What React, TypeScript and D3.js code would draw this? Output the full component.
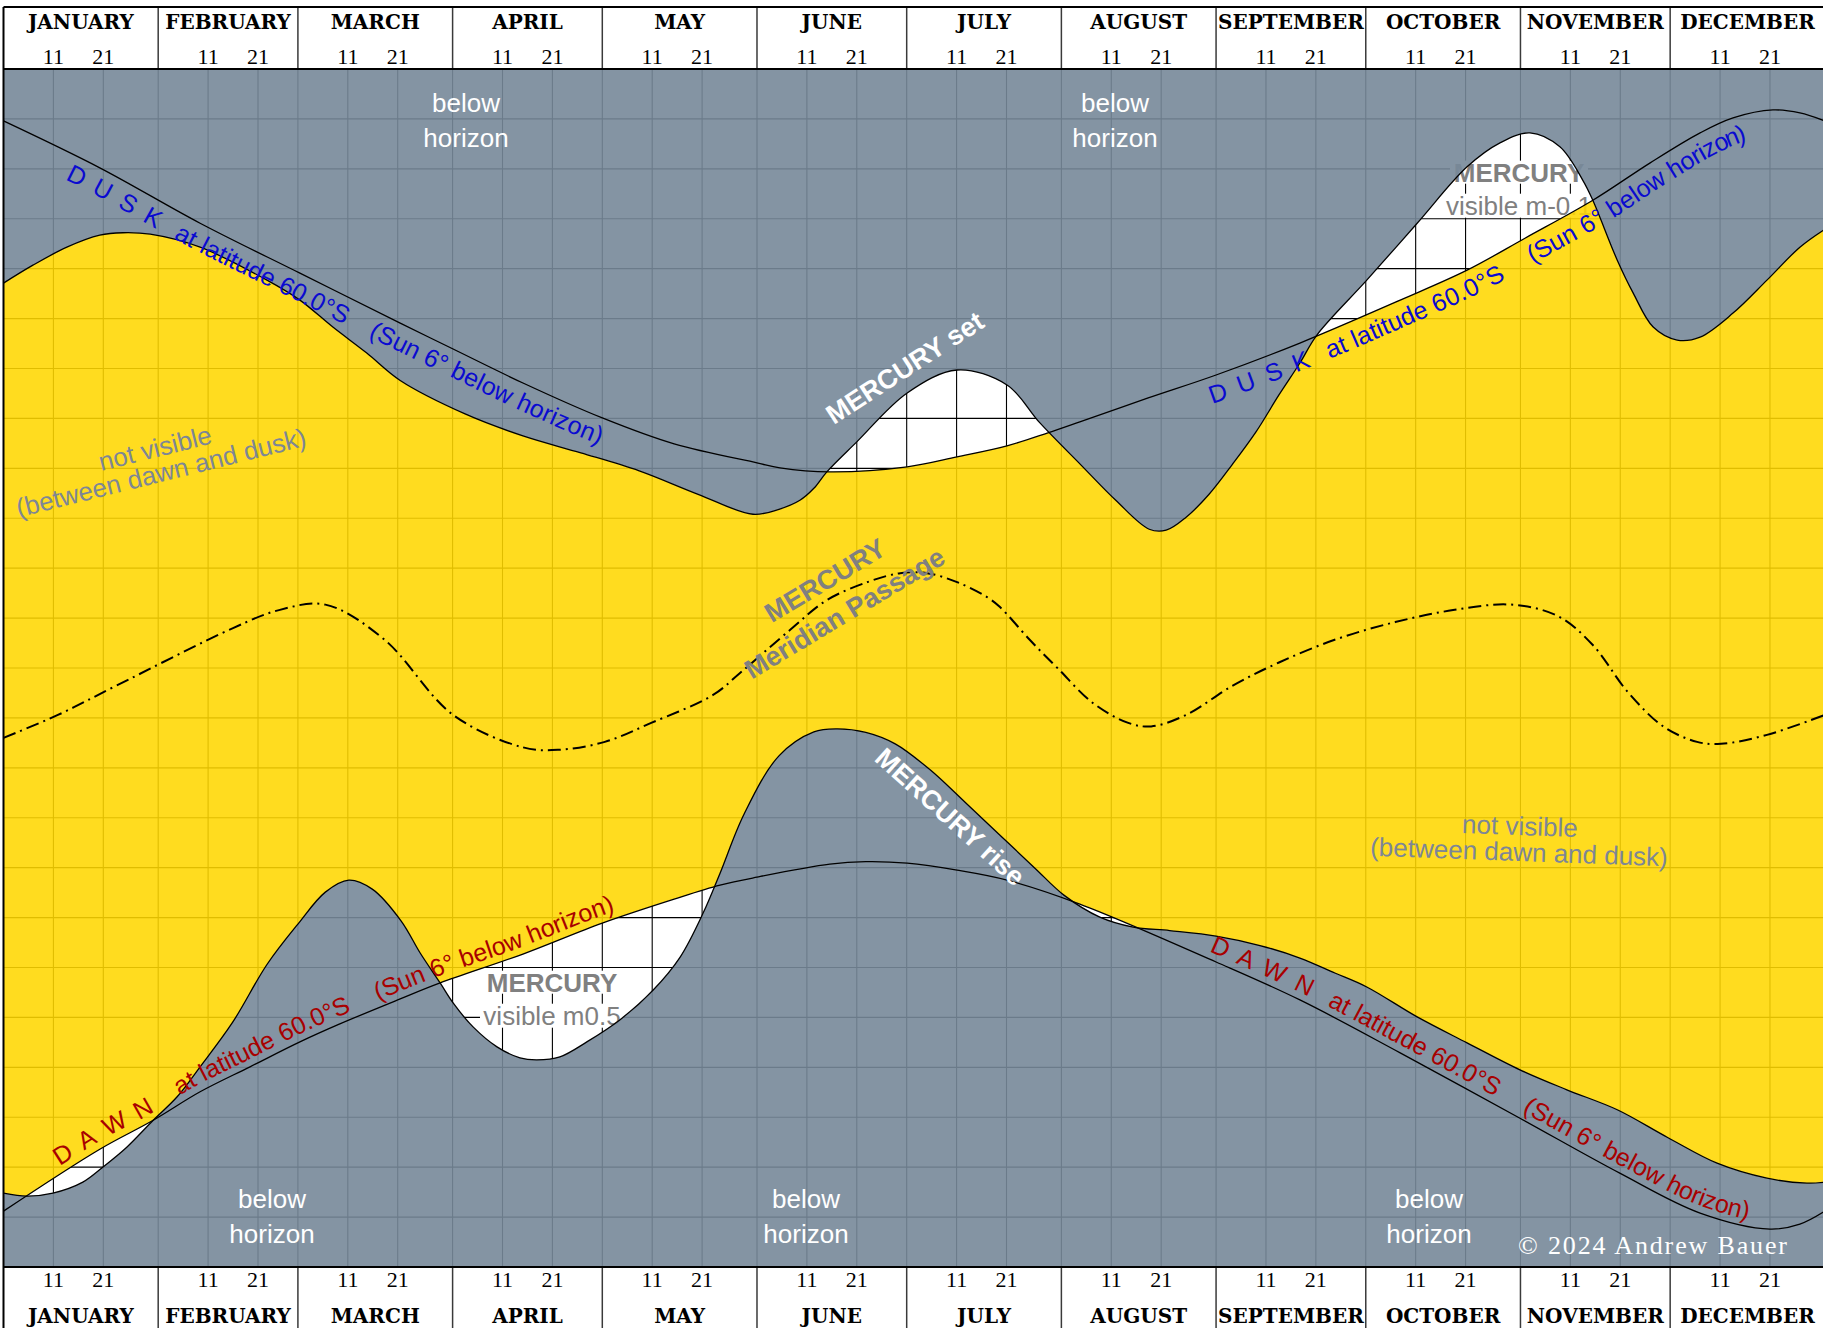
import React from 'react';
import * as d3 from 'd3';

type P = [number, number];

// ---------- axis / category data ----------
const MONTHS = ['JANUARY', 'FEBRUARY', 'MARCH', 'APRIL', 'MAY', 'JUNE', 'JULY', 'AUGUST', 'SEPTEMBER', 'OCTOBER', 'NOVEMBER', 'DECEMBER'];
const MONTH_START_DAYS = [0, 31, 59, 90, 120, 151, 181, 212, 243, 273, 304, 334, 365];
const DAY_TICK_LABELS = ['11', '21'];
const HOUR_LINES = d3.range(1, 24);

// ---------- series: [day of year, hour of day] ----------
const DUSK_HOURS: P[] = [
  [0, 22.96], [19.3, 22.02], [39.4, 20.91], [59.4, 19.91], [79.5, 18.91], [90.1, 18.39], [104.1, 17.71],
  [120.0, 17.01], [134.4, 16.49], [151.0, 16.11], [155.6, 16.01], [165.6, 15.93], [181.1, 16.03],
  [191.1, 16.23], [201.1, 16.45], [209.3, 16.71], [215.7, 16.93], [229.4, 17.41], [243.0, 17.87],
  [259.8, 18.51], [279.9, 19.37], [293.3, 19.97], [304.9, 20.61], [318.5, 21.37], [330.0, 22.12],
  [340.0, 22.72], [346.6, 23.02], [354.6, 23.18], [360.0, 23.12], [365, 22.96],
];

const DAWN_HOURS: P[] = [
  [0, 1.12], [19.3, 2.36], [30.0, 2.94], [39.4, 3.51], [49.4, 4.01], [59.4, 4.51], [67.4, 4.87],
  [79.5, 5.37], [87.5, 5.69], [104.1, 6.27], [120.0, 6.89], [134.4, 7.37], [143.6, 7.65], [151.0, 7.81],
  [165.6, 8.07], [172.8, 8.12], [181.1, 8.09], [191.1, 7.95], [201.1, 7.75], [215.7, 7.27], [243.0, 6.11],
  [259.8, 5.35], [279.9, 4.29], [303.9, 2.98], [323.9, 1.88], [340.0, 1.08], [354.0, 0.76], [360.0, 0.86],
  [365, 1.12],
];

const MERCURY_SET: P[] = [
  [0, 19.71], [5.9, 20.07], [12.7, 20.43], [19.3, 20.67], [23.9, 20.72], [29.4, 20.69], [39.4, 20.43],
  [52.8, 19.77], [59.4, 19.37], [66.0, 18.83], [72.8, 18.31], [79.5, 17.76], [92.5, 17.09], [104.1, 16.65],
  [115.7, 16.31], [127.4, 15.95], [139.2, 15.48], [150.2, 15.08], [155.4, 15.18], [159.6, 15.36],
  [162.4, 15.60], [165.0, 15.93], [171.0, 16.53], [181.1, 17.51], [191.1, 17.97], [201.1, 17.67],
  [207.7, 16.91], [215.9, 16.07], [222.9, 15.36], [229.6, 14.78], [233.0, 14.76],
  [237.0, 15.02], [241.6, 15.48], [246.2, 16.07], [251.0, 16.73], [255.6, 17.47], [259.8, 18.11],
  [263.2, 18.67], [273.2, 19.77], [283.3, 20.91], [293.3, 22.04], [299.9, 22.52], [305.9, 22.72],
  [311.9, 22.44], [316.5, 21.77], [318.5, 21.37], [323.4, 20.17], [326.6, 19.51], [330.6, 18.83],
  [335.4, 18.57], [340.0, 18.63], [346.6, 19.11], [353.4, 19.77], [360.0, 20.43], [365, 20.79],
];

const MERCURY_RISE: P[] = [
  [0, 1.48], [4.7, 1.42], [9.9, 1.48], [15.9, 1.70], [19.9, 2.00], [24.7, 2.40], [30.0, 2.94], [34.8, 3.41],
  [39.4, 4.01], [45.9, 4.90], [52.8, 6.06], [59.0, 6.87], [64.5, 7.51], [69.2, 7.75], [73.9, 7.57],
  [79.7, 6.93], [83.5, 6.29], [87.5, 5.69], [90.1, 5.29], [94.1, 4.81], [98.9, 4.41], [103.5, 4.19],
  [106.9, 4.15], [111.5, 4.21], [116.9, 4.51], [123.5, 4.95], [130.2, 5.55], [135.6, 6.21], [140.2, 7.09],
  [143.6, 7.89], [148.4, 9.07], [155.4, 10.24], [162.4, 10.72], [167.0, 10.78], [172.8, 10.71],
  [178.7, 10.48], [185.7, 9.96], [192.7, 9.31], [199.7, 8.65], [206.7, 7.99], [212.5, 7.45], [219.7, 7.01],
  [226.4, 6.81], [233.7, 6.74], [243.0, 6.63], [251.8, 6.44], [259.8, 6.19], [266.8, 5.89], [273.2, 5.61],
  [283.3, 5.01], [293.3, 4.49], [303.9, 3.95], [313.3, 3.55], [323.4, 3.15], [333.4, 2.60], [343.4, 2.08],
  [353.4, 1.78], [361.4, 1.68], [365, 1.70],
];

const MERCURY_MERIDIAN: P[] = [
  [0, 10.60], [10.9, 11.06], [22.5, 11.64], [46.0, 12.80], [55.2, 13.16], [64.5, 13.27], [76.2, 12.58],
  [90.1, 11.06], [104.1, 10.41], [111.1, 10.36], [120.5, 10.52], [129.8, 10.90], [142.2, 11.46],
  [147.6, 11.90], [157.6, 12.76], [165.0, 13.36], [173.1, 13.72], [179.7, 13.90], [185.1, 13.90],
  [191.1, 13.72], [197.1, 13.42], [199.7, 13.22], [205.7, 12.56], [211.3, 11.99], [218.3, 11.30],
  [225.4, 10.90], [230.0, 10.83], [237.0, 11.06], [246.2, 11.64], [255.6, 12.11], [267.2, 12.58],
  [278.9, 12.92], [290.5, 13.16], [302.1, 13.27], [311.5, 13.04], [318.5, 12.46], [325.5, 11.52],
  [332.6, 10.83], [339.4, 10.52], [344.2, 10.48], [353.4, 10.66], [365, 11.06],
];

const DUSK_LABEL = ['D U S K', 'at latitude 60.0°S', '(Sun 6° below horizon)'];
const DAWN_LABEL = ['D A W N', 'at latitude 60.0°S', '(Sun 6° below horizon)'];

// ---------- layout ----------
const W = 1823;
const H = 1328;
const PLOT_TOP = 69;
const PLOT_BOTTOM = 1267;
const X_LEFT = 3.5;
const PX_PER_DAY = 4.99;
const SANS = "'Liberation Sans', Arial, Helvetica, sans-serif";
const SERIF = "'Liberation Serif', 'Times New Roman', serif";
const HEAD_SERIF = "'DejaVu Serif', 'Liberation Serif', serif";
const BLUE = '#0a0ad0';
const RED = '#a80000';
const LABEL_GRAY = '#808080';
const SOFT_GRAY = '#7d8696';

function makeMeasure(pts: P[]) {
  const cum = [0];
  for (let i = 1; i < pts.length; i++) {
    cum.push(cum[i - 1] + Math.hypot(pts[i][0] - pts[i - 1][0], pts[i][1] - pts[i - 1][1]));
  }
  const seg = (xt: number) => {
    let i = 0;
    while (i < pts.length - 2 && pts[i + 1][0] < xt) i++;
    return i;
  };
  return (xGlyph: number, dy: number) => {
    let i = seg(xGlyph);
    const ang = Math.atan2(pts[i + 1][1] - pts[i][1], pts[i + 1][0] - pts[i][0]);
    const xp = xGlyph + dy * Math.sin(ang);
    i = seg(xp);
    const t = (xp - pts[i][0]) / (pts[i + 1][0] - pts[i][0]);
    return cum[i] + t * (cum[i + 1] - cum[i]);
  };
}

export default function App() {
  const x = d3.scaleLinear().domain([0, 365]).range([X_LEFT, X_LEFT + 365 * PX_PER_DAY]);
  const y = d3.scaleLinear().domain([0, 24]).range([PLOT_BOTTOM, PLOT_TOP]);

  const curve = d3.curveCatmullRom.alpha(0.5);
  const line = d3.line<P>().x((d) => x(d[0])).y((d) => y(d[1])).curve(curve);
  const areaAbove = d3.area<P>().x((d) => x(d[0])).y0(PLOT_TOP).y1((d) => y(d[1])).curve(curve);
  const areaBelow = d3.area<P>().x((d) => x(d[0])).y0(PLOT_BOTTOM).y1((d) => y(d[1])).curve(curve);

  const xL = x(0);
  const xR = x(365);
  const rectD = `M${xL},${PLOT_TOP}H${xR}V${PLOT_BOTTOM}H${xL}Z`;
  const mercuryBandD = rectD + areaAbove(MERCURY_SET) + areaBelow(MERCURY_RISE);
  const twilightBandD = rectD + areaAbove(DUSK_HOURS) + areaBelow(DAWN_HOURS);

  // vertical grid days
  const gridDays: number[] = [];
  MONTH_START_DAYS.slice(0, 12).forEach((s) => {
    if (s > 0) gridDays.push(s);
    gridDays.push(s + 10, s + 20);
  });

  const duskPx: P[] = DUSK_HOURS.map((d) => [x(d[0]), y(d[1])]);
  const dawnPx: P[] = DAWN_HOURS.map((d) => [x(d[0]), y(d[1])]);
  const duskMeasure = makeMeasure(duskPx);
  const dawnMeasure = makeMeasure(dawnPx);

  const DUSK_DY = 26;
  const DAWN_DY = -7;
  const pathLabels = [
    { href: '#duskPath', color: BLUE, dy: DUSK_DY, measure: duskMeasure, texts: DUSK_LABEL, xs: [65, 173, 368] },
    { href: '#duskPath', color: BLUE, dy: DUSK_DY, measure: duskMeasure, texts: DUSK_LABEL, xs: [1212, 1330, 1533] },
    { href: '#dawnPath', color: RED, dy: DAWN_DY, measure: dawnMeasure, texts: DAWN_LABEL, xs: [60, 180, 378] },
    { href: '#dawnPath', color: RED, dy: DAWN_DY, measure: dawnMeasure, texts: DAWN_LABEL, xs: [1209, 1327, 1522] },
  ];

  const belowHorizon = [
    { cx: 466, y: 112 }, { cx: 1115, y: 112 },
    { cx: 272, y: 1208 }, { cx: 806, y: 1208 }, { cx: 1429, y: 1208 },
  ];

  const visibleBoxes = [
    { cx: 552, base: 991.7, line2: 'visible m0.5', w1: 138, w2: 144 },
    { cx: 1519, base: 181.7, line2: 'visible m-0.1', w1: 138, w2: 152 },
  ];

  const monthCenters = MONTHS.map((m, i) => (x(MONTH_START_DAYS[i]) + x(MONTH_START_DAYS[i + 1])) / 2);

  const header = (yTop: number, yBottom: number, monthBase: number, dayBase: number, key: string) => (
    <g key={key}>
      <rect x={0} y={yTop} width={W} height={yBottom - yTop} fill="#fff" />
      {MONTH_START_DAYS.slice(1, 12).map((s) => (
        <line key={s} x1={x(s)} x2={x(s)} y1={yTop} y2={yBottom} stroke="#3a3a3a" strokeWidth={1.5} />
      ))}
      {MONTHS.map((m, i) => (
        <text key={m} x={monthCenters[i]} y={monthBase} textAnchor="middle" fontFamily={HEAD_SERIF}
          fontWeight="bold" fontSize={20} fill="#000">{m}</text>
      ))}
      {MONTH_START_DAYS.slice(0, 12).map((s) =>
        DAY_TICK_LABELS.map((lab) => (
          <text key={`${s}-${lab}`} x={x(s + Number(lab) - 1)} y={dayBase} textAnchor="middle"
            fontFamily={SERIF} fontSize={22} fill="#000">{lab}</text>
        ))
      )}
    </g>
  );

  return (
    <div style={{ position: 'absolute', left: 0, top: 0, width: W, height: H, overflow: 'hidden', background: '#fff' }}>
      <svg width={W} height={H} viewBox={`0 0 ${W} ${H}`} style={{ display: 'block' }}>
        <defs>
          <clipPath id="mercuryBand">
            <path d={mercuryBandD} clipRule="evenodd" />
          </clipPath>
          <clipPath id="twilightBand">
            <path d={twilightBandD} clipRule="evenodd" />
          </clipPath>
          <clipPath id="plotClip">
            <rect x={xL} y={PLOT_TOP} width={xR - xL} height={PLOT_BOTTOM - PLOT_TOP} />
          </clipPath>
          <path id="duskPath" d={line(DUSK_HOURS) || ''} />
          <path id="dawnPath" d={line(DAWN_HOURS) || ''} />
        </defs>

        <rect x={0} y={0} width={W} height={H} fill="#fff" />

        <g clipPath="url(#plotClip)">
          {/* black grid */}
          {gridDays.map((d) => (
            <line key={`v${d}`} x1={x(d)} x2={x(d)} y1={PLOT_TOP} y2={PLOT_BOTTOM} stroke="#000" strokeWidth={1.1} />
          ))}
          {HOUR_LINES.map((h) => (
            <line key={`h${h}`} x1={xL} x2={xR} y1={y(h)} y2={y(h)} stroke="#000" strokeWidth={1.1} />
          ))}

          {/* visibility labels with white boxes (beneath the overlays) */}
          {visibleBoxes.map((b) => (
            <g key={b.line2}>
              <rect x={b.cx - b.w1 / 2} y={b.base - 21} width={b.w1} height={23} fill="#fff" />
              <rect x={b.cx - b.w2 / 2} y={b.base + 12} width={b.w2} height={24} fill="#fff" />
              <text x={b.cx} y={b.base} textAnchor="middle" fontFamily={SANS} fontWeight="bold" fontSize={26}
                fill={LABEL_GRAY}>MERCURY</text>
              <text x={b.cx} y={b.base + 33.3} textAnchor="middle" fontFamily={SANS} fontSize={26}
                fill={LABEL_GRAY}>{b.line2}</text>
            </g>
          ))}

          {/* below horizon (gray) */}
          <path d={areaAbove(MERCURY_SET) || ''} fill="#778899" fillOpacity={0.9} />
          <path d={areaBelow(MERCURY_RISE) || ''} fill="#778899" fillOpacity={0.9} />

          {/* daylight, Mercury up (yellow) */}
          <g clipPath="url(#twilightBand)">
            <rect x={xL} y={PLOT_TOP} width={xR - xL} height={PLOT_BOTTOM - PLOT_TOP} fill="#ffd700"
              fillOpacity={0.88} clipPath="url(#mercuryBand)" />
          </g>

          {/* curves */}
          <path d={line(MERCURY_SET) || ''} fill="none" stroke="#000" strokeWidth={1.3} />
          <path d={line(MERCURY_RISE) || ''} fill="none" stroke="#000" strokeWidth={1.3} />
          <path d={line(DUSK_HOURS) || ''} fill="none" stroke="#000" strokeWidth={1.3} />
          <path d={line(DAWN_HOURS) || ''} fill="none" stroke="#000" strokeWidth={1.3} />
          <path d={line(MERCURY_MERIDIAN) || ''} fill="none" stroke="#000" strokeWidth={2}
            strokeDasharray="13 5 2 5" />

          {/* below horizon labels */}
          {belowHorizon.map((b, i) => (
            <g key={`bh${i}`} fontFamily={SANS} fontSize={26} fill="#fff" textAnchor="middle">
              <text x={b.cx} y={b.y}>below</text>
              <text x={b.cx} y={b.y + 35}>horizon</text>
            </g>
          ))}

          {/* not visible labels */}
          <g transform="translate(158,460) rotate(-14)" fontFamily={SANS} fontSize={26} fill={SOFT_GRAY}
            textAnchor="middle" dominantBaseline="central">
            <text x={0} y={-12}>not visible</text>
            <text x={0} y={13}>(between dawn and dusk)</text>
          </g>
          <g transform="translate(1519.5,839) rotate(2)" fontFamily={SANS} fontSize={26} fill={SOFT_GRAY}
            textAnchor="middle" dominantBaseline="central">
            <text x={0} y={-13}>not visible</text>
            <text x={0} y={13}>(between dawn and dusk)</text>
          </g>

          {/* Mercury set / rise */}
          <text transform="translate(905,368) rotate(-33)" textAnchor="middle" dominantBaseline="central"
            fontFamily={SANS} fontWeight="bold" fontSize={27} fill="#fff">MERCURY set</text>
          <text transform="translate(950,817) rotate(42)" textAnchor="middle" dominantBaseline="central"
            fontFamily={SANS} fontWeight="bold" fontSize={27} fill="#fff">MERCURY rise</text>

          {/* meridian passage */}
          <g transform="translate(835,597) rotate(-31)" fontFamily={SANS} fontWeight="bold" fontSize={27}
            fill={LABEL_GRAY} textAnchor="middle" dominantBaseline="central">
            <text x={0} y={-19}>MERCURY</text>
            <text x={0} y={19}>Meridian Passage</text>
          </g>

          {/* dusk / dawn path labels */}
          {pathLabels.map((pl, i) =>
            pl.texts.map((t, j) => (
              <text key={`pl${i}-${j}`} fontFamily={SANS} fontSize={25} fill={pl.color}
                style={j === 0 ? { letterSpacing: '2.5px' } : undefined}>
                <textPath href={pl.href} startOffset={pl.measure(pl.xs[j], pl.dy)}>
                  <tspan dy={pl.dy}>{t}</tspan>
                </textPath>
              </text>
            ))
          )}

          {/* copyright */}
          <text x={1518} y={1254} fontFamily={SERIF} fontSize={26} fill="#fff" textLength={269}
            lengthAdjust="spacing">© 2024 Andrew Bauer</text>
        </g>

        {/* headers */}
        {header(7, PLOT_TOP, 29, 64, 'top')}
        {header(PLOT_BOTTOM, H + 2, 1323, 1287, 'bottom')}

        {/* frame lines */}
        <line x1={xL} x2={xR} y1={7} y2={7} stroke="#000" strokeWidth={2} />
        <line x1={xL} x2={xR} y1={PLOT_TOP} y2={PLOT_TOP} stroke="#000" strokeWidth={2} />
        <line x1={xL} x2={xR} y1={PLOT_BOTTOM} y2={PLOT_BOTTOM} stroke="#000" strokeWidth={2} />
        <line x1={xL} x2={xL} y1={7} y2={H} stroke="#000" strokeWidth={2} />
      </svg>
    </div>
  );
}
